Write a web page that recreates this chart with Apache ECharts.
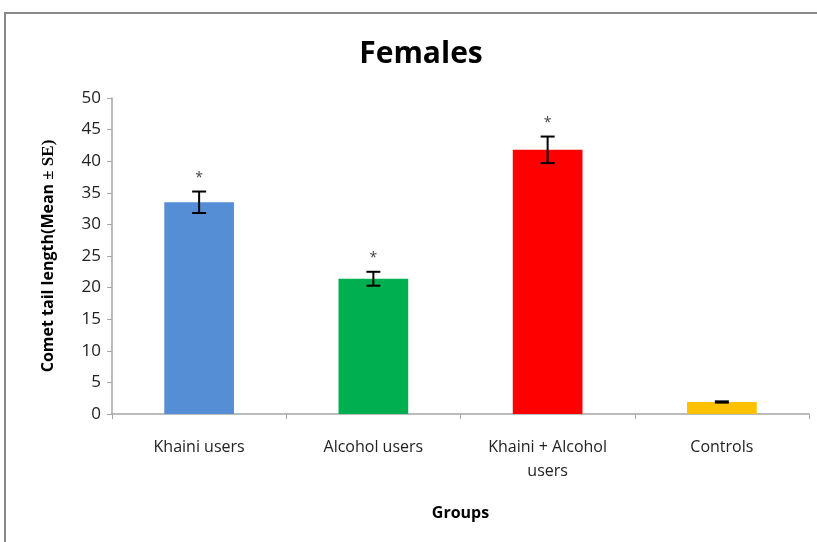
<!DOCTYPE html>
<html><head><meta charset="utf-8">
<script src="https://cdn.jsdelivr.net/npm/echarts@6/dist/echarts.min.js"></script>
<style>html,body{margin:0;padding:0;background:#fff}#c{width:817px;height:542px}</style>
</head><body><div id="c"></div>
<script>
const categories = ['Khaini users', 'Alcohol users', 'Khaini + Alcohol\nusers', 'Controls'];
const means = [33.5, 21.4, 41.8, 1.9];
const errors = [1.7, 1.1, 2.1, 0.1];
const marks = ['*', '*', '*', ''];
const colors = ['#558ED5', '#00B050', '#FF0000', '#FFC000'];
const yTicks = [0, 5, 10, 15, 20, 25, 30, 35, 40, 45, 50];

const chart = echarts.init(document.getElementById('c'));
const font = 'Open Sans, Liberation Sans, sans-serif';
chart.setOption({
  animation: false,
  graphic: [{type: 'rect', shape: {x: 5, y: 13, width: 900, height: 700}, style: {fill: 'none', stroke: '#898989', lineWidth: 2}, z: -1}],
  title: {text: 'Females', left: 416, textAlign: 'center', top: 34,
    textStyle: {fontFamily: font, fontWeight: 'bold', fontSize: 30, color: '#000'}},
  grid: {left: 112, right: 8, top: 98, bottom: 128},
  xAxis: {type: 'category', data: categories,
    name: 'Groups', nameLocation: 'middle', nameGap: 91,
    nameTextStyle: {fontFamily: font, fontWeight: 'bold', fontSize: 16, color: '#000'},
    axisLine: {lineStyle: {color: '#A6A6A6', width: 1.5}},
    axisTick: {show: true, alignWithLabel: false, length: 5, lineStyle: {color: '#A6A6A6'}},
    axisLabel: {fontFamily: font, fontSize: 16, color: '#222', margin: 21, lineHeight: 24}},
  yAxis: {type: 'value', min: 0, max: 50, interval: 5,
    name: '{a|Comet tail length(Mean }{b|± SE)}', nameLocation: 'middle', nameGap: 55,
    nameTextStyle: {rich: {
      a: {fontFamily: font, fontWeight: 'bold', fontSize: 16, color: '#000'},
      b: {fontFamily: 'Liberation Serif, DejaVu Serif, serif', fontWeight: 'bold', fontSize: 17, color: '#000'}}},
    splitLine: {show: false},
    axisLine: {show: true, lineStyle: {color: '#A6A6A6', width: 1.5}},
    axisTick: {show: true, length: 5, lineStyle: {color: '#A6A6A6'}},
    axisLabel: {fontFamily: font, fontSize: 17, color: '#222', margin: 11,
      formatter: v => yTicks.includes(v) ? String(v) : ''}},
  series: [
    {type: 'bar', barWidth: '40%',
     data: means.map((v, i) => ({value: v, itemStyle: {color: colors[i]}}))},
    {type: 'custom', z: 10,
     data: means.map((v, i) => [i, v - errors[i], v + errors[i]]),
     renderItem: (params, api) => {
       const x = api.coord([api.value(0), 0])[0];
       const lo = api.coord([api.value(0), api.value(1)])[1];
       const hi = api.coord([api.value(0), api.value(2)])[1];
       const w = 7;
       const st = {stroke: '#000', lineWidth: 2};
       const children = [
         {type: 'line', shape: {x1: x, y1: lo, x2: x, y2: hi}, style: st},
         {type: 'line', shape: {x1: x - w, y1: lo, x2: x + w, y2: lo}, style: st},
         {type: 'line', shape: {x1: x - w, y1: hi, x2: x + w, y2: hi}, style: st}
       ];
       const m = marks[params.dataIndex];
       if (m) children.push({type: 'text', x: x, y: hi - 7,
         style: {text: m, fontSize: 14, fontFamily: font, fill: '#444', align: 'center', verticalAlign: 'bottom'}});
       return {type: 'group', children};
     }}
  ]
});
</script></body></html>
